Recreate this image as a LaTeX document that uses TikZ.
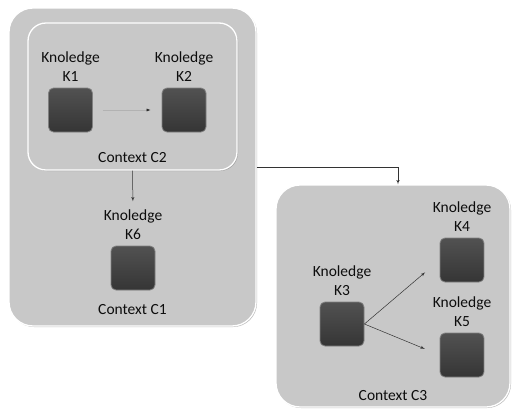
\documentclass[tikz,border=0pt]{standalone}
\usepackage{fontspec}
\setmainfont{Carlito}
\usetikzlibrary{arrows,arrows.meta,shadows,positioning}
\definecolor{ctxgray}{HTML}{C8C8C8}
\definecolor{knogray}{HTML}{383838}

\begin{document}
\begin{tikzpicture}[x=1pt,y=-1pt,
    context/.style = {draw=white, line width=1.3pt, fill=ctxgray,
      drop shadow={shadow xshift=1pt, shadow yshift=-1pt, fill=black!50},
      rounded corners=#1, inner sep=0pt},
    context/.default = 24pt,
    knobox/.style = {minimum size=44pt, inner sep=0pt, rounded corners=5pt,
      draw=black!50, line width=0.8pt,
      top color=black!68, bottom color=knogray!95!black},
    knolabel/.style = {align=center, font=\fontsize{15.5}{19}\selectfont,
      text=black!95, inner sep=0pt},
    ctxlabel/.style = {font=\fontsize{15.5}{18}\selectfont, text=black!95,
      inner sep=0pt},
    link/.style = {-latex', black!80, line width=0.5pt}
  ]
  \useasboundingbox[fill=white] (0,0) rectangle (515,410);

  % contexts
  \node[context, minimum width=247pt, minimum height=318pt] (c1) at (132.5,167) {};
  \node[context=18pt, minimum width=209pt, minimum height=147pt] (c2) at (132.5,96.5) {};
  \node[context, minimum width=234pt, minimum height=222pt] (c3) at (393,296) {};

  % knowledge items
  \node[knobox] (k1) at (70.5,110) {};
  \node[knobox] (k2) at (184,110) {};
  \node[knobox] (k6) at (133,268) {};
  \node[knobox] (k3) at (342,324) {};
  \node[knobox] (k4) at (462,260) {};
  \node[knobox] (k5) at (462,355) {};

  \node[knolabel, above=6pt of k1] (k1label) {Knoledge\\K1};
  \node[knolabel, above=6pt of k2] (k2label) {Knoledge\\K2};
  \node[knolabel, above=6pt of k6] (k6label) {Knoledge\\K6};
  \node[knolabel, above=6pt of k3] (k3label) {Knoledge\\K3};
  \node[knolabel, above=6pt of k4] (k4label) {Knoledge\\K4};
  \node[knolabel, above=6pt of k5] (k5label) {Knoledge\\K5};

  \node[ctxlabel, above=8pt of c2.south] (c2label) {Context C2};
  \node[ctxlabel, above=12pt of c1.south] (c1label) {Context C1};
  \node[ctxlabel, above=7pt of c3.south] (c3label) {Context C3};

  % links
  \draw[-{Latex[length=4pt,width=3pt,black!85]}, black!30, line width=0.6pt,
    shorten <=10pt, shorten >=11pt] (k1) -- (k2);
  \draw[link, shorten >=8pt] (c2.south) -- (k6label.north);
  \draw[link] (c1.east) -| ([xshift=5pt]c3.north);
  \draw[link, shorten >=19pt] (k3.east) -- (k4.west);
  \draw[link, shorten >=16pt] (k3.east) -- (k5.west);
\end{tikzpicture}
\end{document}
